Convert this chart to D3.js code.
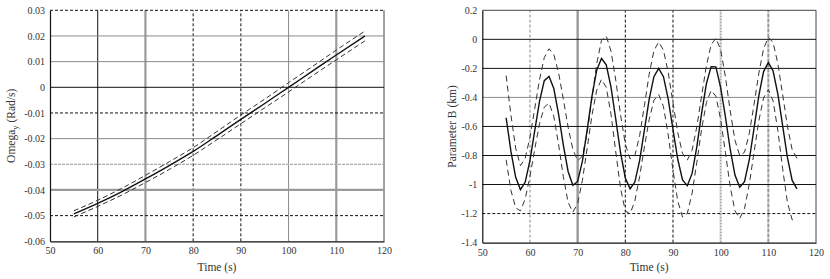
<!DOCTYPE html>
<html>
<head>
<meta charset="utf-8">
<script src="https://cdn.jsdelivr.net/npm/d3@7"></script>
<style>
  html, body { margin: 0; padding: 0; background: #fff; }
  svg { display: block; }
  text { font-family: "Liberation Serif", "DejaVu Serif", serif; fill: #333; }
</style>
</head>
<body>
<svg id="chart" width="830" height="279"></svg>
<script>
// ---------- data ----------
const xTicks = [50, 60, 70, 80, 90, 100, 110, 120];

const omegaTicks = [-0.06, -0.05, -0.04, -0.03, -0.02, -0.01, 0, 0.01, 0.02, 0.03];
const omegaTickLabels = ["-0.06", "-0.05", "-0.04", "-0.03", "-0.02", "-0.01", "0", "0.01", "0.02", "0.03"];
const omegaTime  = [55, 60, 65, 70, 75, 80, 85, 90, 95, 100, 105, 110, 116];
const omegaMean  = [-0.0493, -0.0452, -0.0407, -0.0357, -0.0305, -0.0250, -0.0188, -0.0125, -0.0063, 0.0000, 0.0063, 0.0126, 0.0200];
const omegaUpper = [-0.0481, -0.0440, -0.0394, -0.0343, -0.0290, -0.0235, -0.0172, -0.0108, -0.0046, 0.0018, 0.0081, 0.0145, 0.0219];
const omegaLower = [-0.0505, -0.0464, -0.0420, -0.0371, -0.0320, -0.0265, -0.0204, -0.0142, -0.0080, -0.0018, 0.0045, 0.0107, 0.0181];

const bTicks = [-1.4, -1.2, -1, -0.8, -0.6, -0.4, -0.2, 0, 0.2];
const bTickLabels = ["-1.4", "-1.2", "-1", "-0.8", "-0.6", "-0.4", "-0.2", "0", "0.2"];
const bTime = [55,56,57,58,59,60,61,62,63,64,65,66,67,68,69,70,71,72,73,74,75,76,77,78,79,80,81,82,83,84,85,86,87,88,89,90,91,92,93,94,95,96,97,98,99,100,101,102,103,104,105,106,107,108,109,110,111,112,113,114,115,116];
const bMean = [-0.54,-0.77,-0.95,-1.035,-0.983,-0.833,-0.628,-0.427,-0.285,-0.256,-0.339,-0.515,-0.728,-0.910,-1.005,-0.979,-0.839,-0.624,-0.393,-0.212,-0.132,-0.176,-0.329,-0.551,-0.781,-0.955,-1.029,-0.983,-0.835,-0.626,-0.414,-0.257,-0.200,-0.257,-0.412,-0.621,-0.826,-0.969,-1.008,-0.925,-0.740,-0.510,-0.307,-0.188,-0.190,-0.332,-0.534,-0.757,-0.935,-1.018,-0.980,-0.831,-0.613,-0.389,-0.222,-0.160,-0.218,-0.378,-0.595,-0.813,-0.972,-1.030];
const bUpper = [-0.25,-0.52,-0.75,-0.87,-0.818,-0.675,-0.477,-0.278,-0.126,-0.065,-0.104,-0.230,-0.413,-0.605,-0.759,-0.836,-0.804,-0.644,-0.406,-0.168,-0.008,0.022,-0.081,-0.282,-0.520,-0.721,-0.824,-0.800,-0.664,-0.458,-0.241,-0.078,-0.018,-0.074,-0.228,-0.437,-0.642,-0.786,-0.832,-0.765,-0.603,-0.390,-0.183,-0.037,0.008,-0.072,-0.259,-0.493,-0.695,-0.800,-0.778,-0.649,-0.450,-0.235,-0.065,0.014,-0.022,-0.168,-0.379,-0.598,-0.760,-0.820];
const bLower = [-0.83,-1.04,-1.16,-1.182,-1.099,-0.944,-0.756,-0.582,-0.467,-0.439,-0.531,-0.723,-0.946,-1.123,-1.190,-1.131,-0.971,-0.750,-0.524,-0.351,-0.276,-0.330,-0.516,-0.776,-1.025,-1.182,-1.202,-1.113,-0.946,-0.743,-0.553,-0.420,-0.380,-0.463,-0.659,-0.903,-1.114,-1.224,-1.200,-1.062,-0.848,-0.619,-0.437,-0.352,-0.392,-0.551,-0.780,-1.014,-1.181,-1.234,-1.166,-0.999,-0.779,-0.562,-0.404,-0.347,-0.424,-0.629,-0.891,-1.122,-1.243,-1.240];

// ---------- drawing ----------
const svg = d3.select("#chart");

function drawPanel(cfg) {
  const x = d3.scaleLinear().domain([50, 120]).range([cfg.x0, cfg.x1]);
  const y = d3.scaleLinear().domain(cfg.yDomain).range([cfg.y0, cfg.y1]);
  const g = svg.append("g");

  // vertical grid
  xTicks.slice(1).forEach(t => {
    const s = cfg.vStyle(t);
    g.append("line")
      .attr("x1", x(t)).attr("x2", x(t))
      .attr("y1", y(cfg.yDomain[0])).attr("y2", y(cfg.yDomain[1]))
      .attr("stroke", s.c).attr("stroke-width", s.w)
      .attr("stroke-dasharray", s.d || null);
  });
  // horizontal grid
  cfg.yTicks.slice(1).forEach(t => {
    const s = cfg.hStyle(t);
    g.append("line")
      .attr("x1", x(50)).attr("x2", x(120))
      .attr("y1", y(t)).attr("y2", y(t))
      .attr("stroke", s.c).attr("stroke-width", s.w)
      .attr("stroke-dasharray", s.d || null);
  });

  // axes
  const xAxis = d3.axisBottom(x).tickValues(xTicks).tickSize(0).tickPadding(6).tickFormat(d3.format("d"));
  const gx = g.append("g").attr("transform", `translate(0,${y(cfg.yDomain[0])})`).call(xAxis);
  gx.select(".domain").attr("stroke", "#111").attr("stroke-width", 1.2);
  gx.selectAll("text").style("font-size", "10px").attr("fill", "#333")
    .style("font-family", '"Liberation Serif", serif');

  const yAxis = d3.axisLeft(y).tickValues(cfg.yTicks).tickSize(0).tickPadding(5)
    .tickFormat((d, i) => cfg.yLabels[i]);
  const gy = g.append("g").attr("transform", `translate(${x(50)},0)`).call(yAxis);
  gy.select(".domain").attr("stroke", "#111").attr("stroke-width", 1.2);
  gy.selectAll("text").style("font-size", "10px").attr("fill", "#333")
    .style("font-family", '"Liberation Serif", serif');

  // curves
  const line = d3.line().x((d) => x(d[0])).y((d) => y(d[1])).curve(cfg.curve);
  const mk = (ys) => cfg.time.map((t, i) => [t, ys[i]]);
  g.append("path").attr("d", line(mk(cfg.upper))).attr("fill", "none")
    .attr("stroke", "#333").attr("stroke-width", 1).attr("stroke-dasharray", cfg.dash);
  g.append("path").attr("d", line(mk(cfg.lower))).attr("fill", "none")
    .attr("stroke", "#333").attr("stroke-width", 1).attr("stroke-dasharray", cfg.dash);
  g.append("path").attr("d", line(mk(cfg.mean))).attr("fill", "none")
    .attr("stroke", "#111").attr("stroke-width", 1.4);

  // x title
  g.append("text").attr("x", (cfg.x0 + cfg.x1) / 2).attr("y", 271)
    .attr("text-anchor", "middle").style("font-size", "11.5px").text("Time (s)");

  // y title
  const yt = g.append("text")
    .attr("transform", `translate(${cfg.yTitleX},${(cfg.y0 + cfg.y1) / 2}) rotate(-90)`)
    .attr("text-anchor", "middle").style("font-size", "11.5px");
  cfg.yTitle(yt);
}

const black = { c: "#111", w: 1 };
const blackDash = { c: "#111", w: 1, d: "3,2" };
const grayThin = { c: "#8a8a8a", w: 1 };
const grayThick = { c: "#9a9a9a", w: 2.2 };
const border = { c: "#444", w: 1 };

drawPanel({
  x0: 50, x1: 384, y0: 241.3, y1: 10.3,
  yDomain: [-0.06, 0.03], yTicks: omegaTicks, yLabels: omegaTickLabels,
  time: omegaTime, mean: omegaMean, upper: omegaUpper, lower: omegaLower,
  curve: d3.curveMonotoneX, dash: "5,3",
  yTitleX: 15,
  vStyle: t => ({60: black, 70: grayThick, 80: blackDash, 90: blackDash, 100: grayThin, 110: grayThick, 120: border})[t],
  hStyle: t => {
    const k = Math.round(t * 100);
    return ({3: blackDash, 2: grayThin, 1: grayThin, 0: black, "-1": blackDash, "-2": grayThin,
             "-3": { c: "#aaa", w: 1.2, d: "3,1" }, "-4": grayThick, "-5": blackDash})[k];
  },
  yTitle: el => {
    el.append("tspan").text("Omega");
    el.append("tspan").attr("dy", 3).style("font-size", "8.5px").text("y");
    el.append("tspan").attr("dy", -3).text(" (Rad/s)");
  }
});

drawPanel({
  x0: 482.3, x1: 816, y0: 242.6, y1: 10.3,
  yDomain: [-1.4, 0.2], yTicks: bTicks, yLabels: bTickLabels,
  time: bTime, mean: bMean, upper: bUpper, lower: bLower,
  curve: d3.curveLinear, dash: "6,4",
  yTitleX: 456,
  vStyle: t => ({60: { c: "#888", w: 1, d: "3,2" }, 70: { c: "#999", w: 2.4 }, 80: blackDash, 90: blackDash,
                 100: { c: "#aaa", w: 2, d: "2,1" }, 110: { c: "#999", w: 2, d: "4,1" }, 120: border})[t],
  hStyle: t => {
    const k = Math.round(t * 10);
    return ({2: border, 0: black, "-2": black, "-4": grayThin, "-6": black, "-8": black, "-10": black,
             "-12": blackDash})[k];
  },
  yTitle: el => el.text("Parameter B (km)")
});
</script>
</body>
</html>
